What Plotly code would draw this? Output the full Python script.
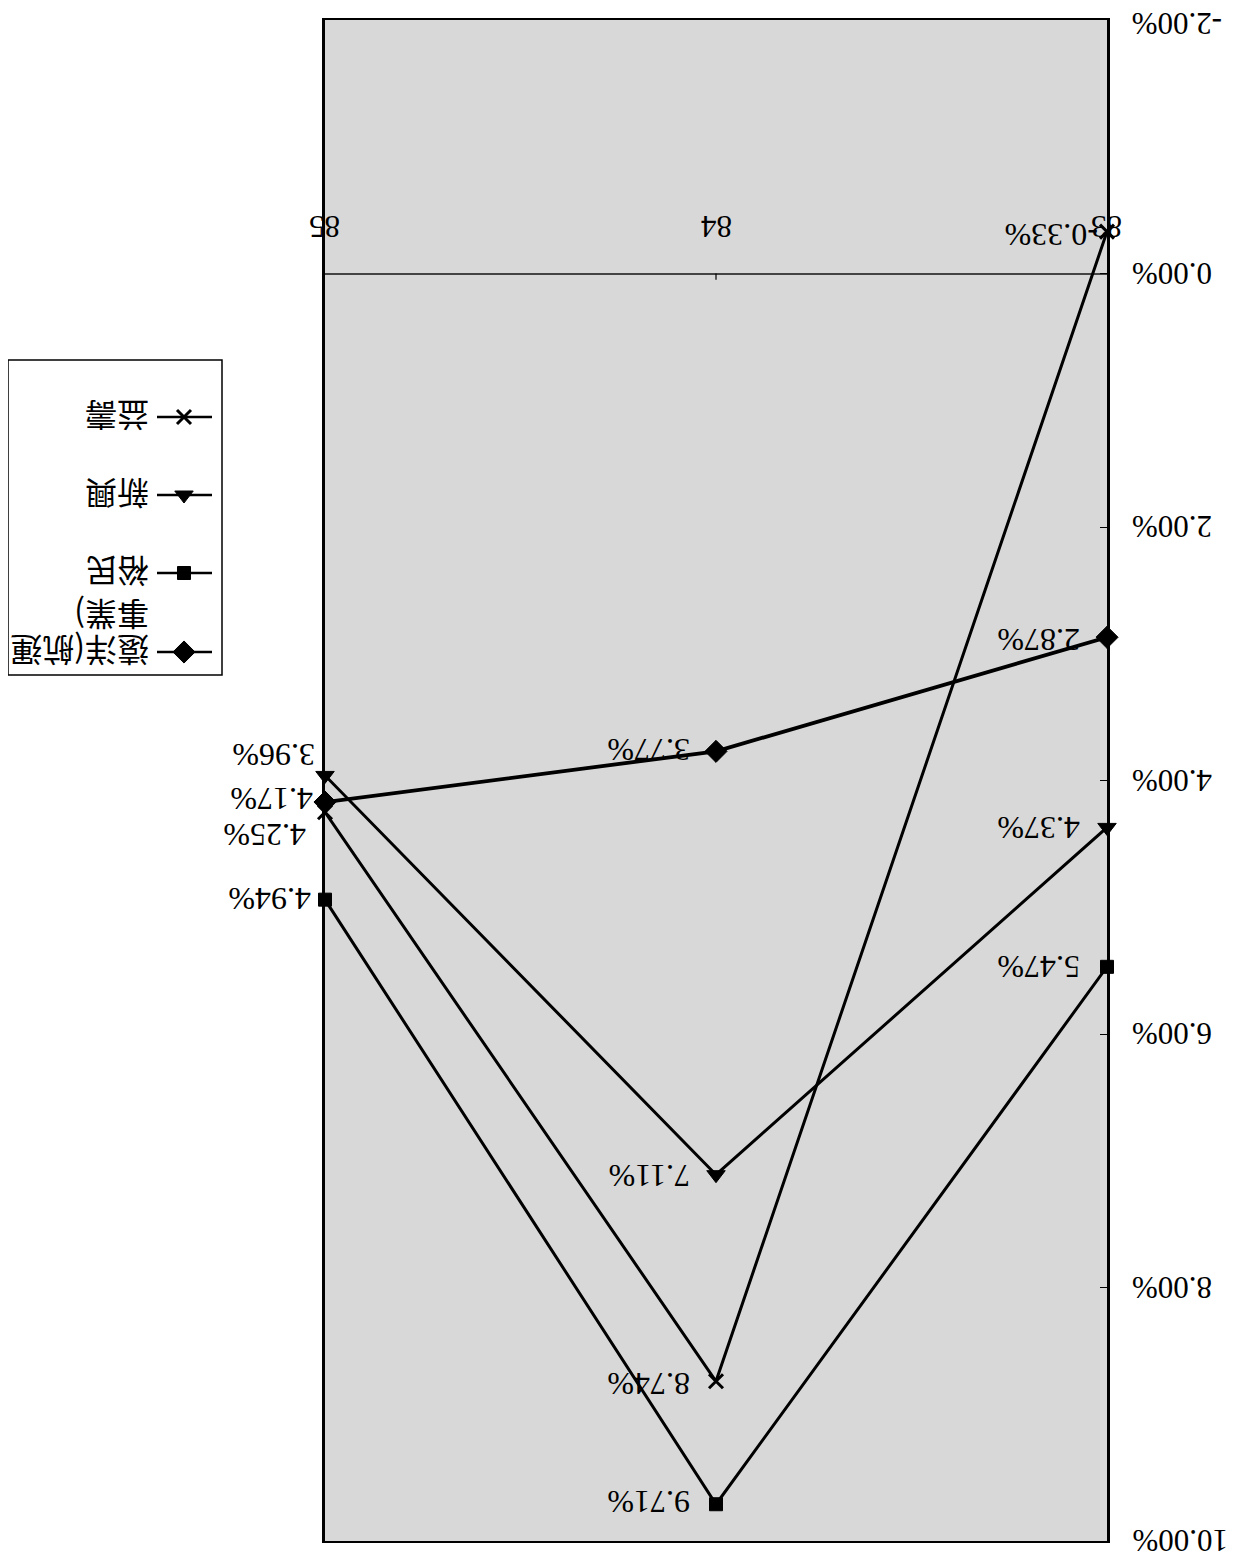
import plotly.graph_objects as go

OFF = 8  # page body margin in the browser
W, H = 1239 - OFF, 1560 - OFF

years = [83, 84, 85]
series_names = ["遠洋(航運事業)", "裕民", "新興", "益壽"]
legend_lines = [["遠洋(航運", "事業)"], ["裕民"], ["新興"], ["益壽"]]
yuanyang = [2.87, 3.77, 4.17]
yumin = [5.47, 9.71, 4.94]
xinxing = [4.37, 7.11, 3.96]
yishou = [-0.33, 8.74, 4.25]
series_values = [yuanyang, yumin, xinxing, yishou]
symbols = ["diamond", "square", "triangle-down", "x-thin"]
y_ticks = [-2, 0, 2, 4, 6, 8, 10]
y_tick_text = ["-2.00%", "0.00%", "2.00%", "4.00%", "6.00%", "8.00%", "10.00%"]

# label nudges in px (x: + = right, y: + = up) per series per point
label_xshift = {
    "遠洋(航運事業)": [-25, -24, -10],
    "裕民": [-25, -24, -12],
    "新興": [-25, -24, -8],
    "益壽": [-7, -24, -17],
}
label_yshift = {
    "遠洋(航運事業)": [-2, 2, 3],
    "裕民": [0, 2, 0],
    "新興": [0, -2, 21],
    "益壽": [-4, -2, -23],
}
marker_sizes = {"diamond": 17, "square": 13, "triangle-down": 16, "x-thin": 14}

# plot area in reference pixels, shifted for page margin
PL, PR, PT, PB = 325 - OFF, 1107 - OFF, 20 - OFF, 1541 - OFF
LG = dict(l=8 - OFF, r=222 - OFF, t=360 - OFF, b=675 - OFF)

fig = go.Figure()

for name, vals, sym in zip(series_names, series_values, symbols):
    fig.add_trace(go.Scatter(
        x=years, y=vals, mode="lines+markers", name=name,
        line=dict(color="#000000", width=3 if name != "遠洋(航運事業)" else 3.8),
        marker=dict(symbol=sym, size=marker_sizes[sym], color="#000000",
                    line=dict(color="#000000", width=3 if sym == "x-thin" else 1)),
        showlegend=False, xaxis="x", yaxis="y", cliponaxis=False,
    ))

serif = "Liberation Serif, Times New Roman, serif"
cjk = "Noto Sans CJK TC, serif"

ann = []
for name, vals in zip(series_names, series_values):
    for i, (yr, v) in enumerate(zip(years, vals)):
        ann.append(dict(
            x=yr, y=v, xref="x", yref="y", text=f"{v:.2f}%",
            showarrow=False, textangle=180, xanchor="right", yanchor="middle",
            xshift=label_xshift[name][i], yshift=label_yshift[name][i],
            font=dict(family=serif, size=32, color="#000000"),
        ))

# category labels (appear above zero line in flipped view)
for yr in years:
    ann.append(dict(
        x=yr, y=0, xref="x", yref="y", text=str(yr), showarrow=False,
        textangle=180, xanchor="center", yanchor="middle", yshift=47,
        font=dict(family=serif, size=31, color="#000000"),
    ))

# y tick labels on the right, flipped
for v, t in zip(y_ticks, y_tick_text):
    ann.append(dict(
        x=PR / W, y=v, xref="paper", yref="y", text=t, showarrow=False,
        textangle=180, xanchor="left", yanchor="middle", xshift=23,
        yshift=-3 if v == -2 else 0,
        font=dict(family=serif, size=31, color="#000000"),
    ))

# legend
lg_w = LG["r"] - LG["l"]
lg_h = LG["b"] - LG["t"]
rows = [292, 213, 135, 57]  # px from legend top for series order
for name, lines, sym, ry in zip(series_names, legend_lines, symbols, rows):
    fig.add_trace(go.Scatter(
        x=[149, 204], y=[ry, ry], mode="lines", xaxis="x2", yaxis="y2",
        line=dict(color="#000000", width=2.4), showlegend=False, hoverinfo="skip",
    ))
    fig.add_trace(go.Scatter(
        x=[176], y=[ry], mode="markers", xaxis="x2", yaxis="y2",
        marker=dict(symbol=sym, size=marker_sizes[sym], color="#000000",
                    line=dict(color="#000000", width=3 if sym == "x-thin" else 1)),
        showlegend=False, hoverinfo="skip",
    ))
    for k, txt in enumerate(lines):
        ann.append(dict(
            x=143, y=ry - 36 * k, xref="x2", yref="y2", text=txt,
            showarrow=False, textangle=180, xanchor="right", yanchor="middle",
            font=dict(family=cjk, size=32, color="#000000"),
        ))

shapes = [
    # plot-area fill
    dict(type="rect", xref="paper", yref="paper", layer="below",
         x0=PL / W, x1=PR / W, y0=1 - PB / H, y1=1 - PT / H,
         line=dict(width=0), fillcolor="#d8d8d8"),
    # legend box
    dict(type="rect", xref="paper", yref="paper",
         x0=LG["l"] / W, x1=LG["r"] / W, y0=1 - LG["b"] / H, y1=1 - LG["t"] / H,
         line=dict(color="#000000", width=1.5), fillcolor="rgba(0,0,0,0)"),
    # tick mark at 84 on the category axis
    dict(type="line", xref="x", yref="y", x0=84, x1=84, y0=0, y1=0.05,
         line=dict(color="#000000", width=1.2)),
]

fig.update_layout(
    width=W, height=H,
    margin=dict(l=0, r=0, t=0, b=0),
    paper_bgcolor="#ffffff",
    plot_bgcolor="rgba(0,0,0,0)",
    showlegend=False,
    annotations=ann,
    shapes=shapes,
    xaxis=dict(
        range=[85, 83], domain=[PL / W, PR / W],
        showgrid=False, zeroline=False, showticklabels=False, ticks="",
        showline=True, linecolor="#000000", linewidth=1.5, mirror=True,
        anchor="y",
    ),
    yaxis=dict(
        range=[10, -2], domain=[1 - PB / H, 1 - PT / H], side="right",
        tickvals=y_ticks, showticklabels=False, ticks="inside", ticklen=7,
        tickcolor="#000000", showgrid=False,
        zeroline=True, zerolinecolor="#444444", zerolinewidth=1.5,
        showline=True, linecolor="#000000", linewidth=2.5, mirror=True,
        anchor="x",
    ),
    xaxis2=dict(range=[0, lg_w], domain=[LG["l"] / W, LG["r"] / W], visible=False,
                anchor="y2", fixedrange=True),
    yaxis2=dict(range=[lg_h, 0], domain=[1 - LG["b"] / H, 1 - LG["t"] / H],
                visible=False, anchor="x2", fixedrange=True),
)

fig.write_html("out.html")
